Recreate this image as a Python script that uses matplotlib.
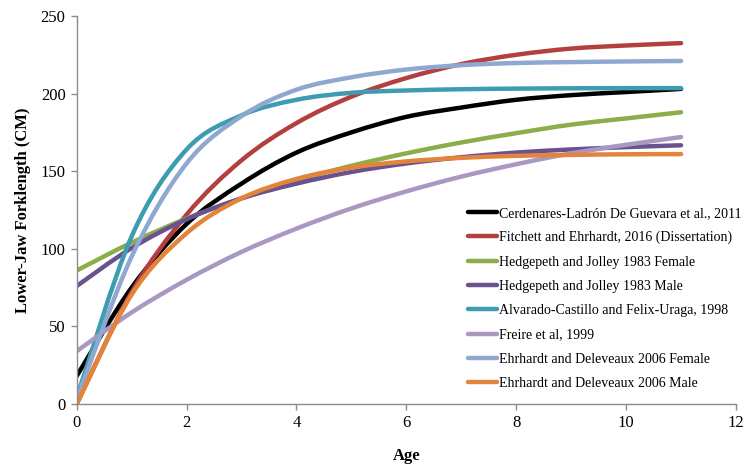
import numpy as np
import matplotlib
matplotlib.use("Agg")
import matplotlib.pyplot as plt
from matplotlib.path import Path
from matplotlib.patches import PathPatch
from matplotlib.lines import Line2D

# values at whole ages
ages = [0, 1, 2, 3, 4, 5, 6, 7, 8, 9, 10, 11]
cerdenares = [18, 75, 116, 142, 162, 175, 185, 191, 196, 199, 201, 203]
fitchett = [0, 72, 122, 157, 181, 198, 210, 219, 225, 229, 231, 232.5]
hedgepeth_f = [86, 104, 119.5, 132.5, 144, 153.5, 161.5, 168.5, 174.5, 180, 184, 188]
hedgepeth_m = [76, 100.5, 119, 132.5, 142, 149.5, 155, 159, 162, 164, 165.5, 166.7]
alvarado = [4, 108, 164, 186, 196, 200.5, 202, 202.8, 203.2, 203.4, 203.5, 203.5]
freire = [34, 59, 80, 98, 113, 126, 137, 146.5, 154.5, 161.5, 167, 172]
ehrhardt_f = [3, 95, 155, 185.5, 202.5, 210.5, 215.5, 218.3, 219.7, 220.3, 220.7, 221]
ehrhardt_m = [0, 70.5, 110, 132.5, 145, 152.3, 156.3, 158.6, 159.9, 160.5, 160.9, 161]

series = [
    ("Cerdenares-Ladrón De Guevara et al., 2011", cerdenares, "#000000"),
    ("Fitchett and Ehrhardt, 2016 (Dissertation)", fitchett, "#B3403E"),
    ("Hedgepeth and Jolley 1983 Female", hedgepeth_f, "#8BAD4A"),
    ("Hedgepeth and Jolley 1983 Male", hedgepeth_m, "#6A5190"),
    ("Alvarado-Castillo and Felix-Uraga, 1998", alvarado, "#3D9BB2"),
    ("Freire et al, 1999", freire, "#A898C2"),
    ("Ehrhardt and Deleveaux 2006 Female", ehrhardt_f, "#8FA8D0"),
    ("Ehrhardt and Deleveaux 2006 Male", ehrhardt_m, "#E3843A"),
]


def smooth_path(x, y):
    # smoothed line like the spreadsheet one (bezier through the points)
    pts = np.column_stack([x, y]).astype(float)
    n = len(pts)
    verts = [pts[0]]
    codes = [Path.MOVETO]
    for i in range(n - 1):
        p0 = pts[max(i - 1, 0)]
        p3 = pts[min(i + 2, n - 1)]
        c1 = pts[i] + (pts[i + 1] - p0) / 6
        c2 = pts[i + 1] - (p3 - pts[i]) / 6
        verts += [c1, c2, pts[i + 1]]
        codes += [Path.CURVE4] * 3
    return Path(verts, codes)


plt.rcParams['font.family'] = ['Liberation Serif', 'DejaVu Serif']

fig = plt.figure(figsize=(7.46, 4.70), dpi=100)
ax = fig.add_axes([0.1028, 0.1404, 0.8838, 0.8256])

handles = []
for label, vals, color in series:
    patch = PathPatch(smooth_path(ages, vals), facecolor='none', edgecolor=color,
                      lw=3.2, capstyle='round', joinstyle='round')
    ax.add_patch(patch)
    handles.append(Line2D([], [], color=color, lw=3.2, solid_capstyle='round'))

ax.set_xlim(0, 12)
ax.set_ylim(0, 250)
ax.set_xticks(range(0, 13, 2))
ax.set_yticks(range(0, 251, 50))
for s in ['top', 'right']:
    ax.spines[s].set_visible(False)
for s in ['left', 'bottom']:
    ax.spines[s].set_color('#8c8c8c')
    ax.spines[s].set_linewidth(1.0)
ax.tick_params(direction='out', length=4, width=1, color='#8c8c8c',
               labelsize=12, pad=4)

ax.set_xlabel("Age", fontsize=12, fontweight='bold', labelpad=12)
ax.set_ylabel("Lower-Jaw Forklength (CM)", fontsize=12, fontweight='bold', labelpad=7)

fig.legend(handles, [s[0] for s in series], loc='upper left',
           bbox_to_anchor=(0.618, 0.575), frameon=False, fontsize=10,
           handlelength=2.1, handletextpad=0.15, labelspacing=0.81, borderpad=0)

fig.savefig("out.png", dpi=100)
